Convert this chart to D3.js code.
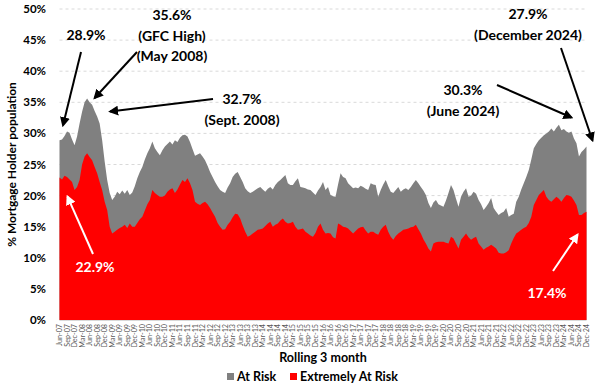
<!DOCTYPE html>
<html>
<head>
<meta charset="utf-8">
<script src="https://cdn.jsdelivr.net/npm/d3@7"></script>
<style>
  body { margin:0; background:#fff; }
  svg { display:block; font-family: Lato, "Open Sans", "DejaVu Sans", sans-serif; }
</style>
</head>
<body>
<div id="chart"></div>
<script>
// Mortgage holders at risk, rolling 3 month, Jun-07 .. Dec-24 (monthly)

const tickLabels = [
  "Jun-07","Sep-07","Dec-07",
  "Mar-08","Jun-08","Sep-08","Dec-08","Mar-09","Jun-09","Sep-09","Dec-09",
  "Mar-10","Jun-10","Sep-10","Dec-10","Mar-11","Jun-11","Sep-11","Dec-11",
  "Mar-12","Jun-12","Sep-12","Dec-12","Mar-13","Jun-13","Sep-13","Dec-13",
  "Mar-14","Jun-14","Sep-14","Dec-14","Mar-15","Jun-15","Sep-15","Dec-15",
  "Mar-16","Jun-16","Sep-16","Dec-16","Mar-17","Jun-17","Sep-17","Dec-17",
  "Mar-18","Jun-18","Sep-18","Dec-18","Mar-19","Jun-19","Sep-19","Dec-19",
  "Mar-20","Jun-20","Sep-20","Dec-20","Mar-21","Jun-21","Sep-21","Dec-21",
  "Mar-22","Jun-22","Sep-22","Dec-22","Mar-23","Jun-23","Sep-23","Dec-23",
  "Mar-24","Jun-24","Sep-24","Dec-24"
];

// "At Risk" (total incl. extremely at risk), % of mortgage holders
const atRisk = [
  28.9,29.0,29.6,30.3,30.1,29.0,28.1,                               // Jun-07..Dec-07
  29.5,31.6,33.5,35.0,35.6,35.0,34.6,33.6,32.7,31.6,28.9,25.5,      // 2008
  22.5,20.4,19.3,19.8,20.6,20.2,20.8,20.3,20.9,20.1,20.5,21.5,      // 2009
  22.8,23.8,24.6,25.8,26.8,27.6,28.7,27.6,27.0,26.5,27.3,27.9,      // 2010
  28.3,28.7,28.2,28.9,28.6,29.3,29.7,29.8,29.5,28.6,27.5,26.4,      // 2011
  26.6,26.8,26.3,25.7,24.8,23.8,23.0,22.2,21.5,20.9,20.6,20.4,      // 2012
  21.3,22.0,23.0,23.5,23.8,23.0,22.2,21.2,20.7,20.4,20.6,20.9,      // 2013
  21.2,21.4,21.0,20.6,21.1,21.4,21.0,21.7,22.2,22.5,22.9,23.3,      // 2014
  22.0,21.7,21.7,22.3,22.8,21.4,21.3,21.2,21.0,20.9,20.5,20.1,      // 2015
  20.8,21.4,22.2,20.9,21.4,20.1,19.9,19.8,21.8,23.6,23.0,22.8,      // 2016
  22.0,21.6,21.2,21.3,21.2,21.6,21.4,21.1,20.9,22.0,21.8,21.7,      // 2017
  19.8,20.9,21.8,22.5,21.5,20.6,20.4,20.9,21.4,20.6,21.0,21.2,      // 2018
  20.9,21.4,22.0,22.5,22.0,21.4,20.8,20.1,18.8,18.0,18.9,19.3,      // 2019
  18.6,18.4,18.2,19.2,20.4,21.7,20.9,19.5,18.2,19.8,20.6,21.2,      // 2020
  19.8,20.0,20.6,20.3,19.3,18.6,17.7,18.2,18.8,19.6,18.0,17.4,      // 2021
  16.9,17.2,17.4,18.0,16.6,16.9,17.1,19.0,19.8,21.0,22.0,23.0,      // 2022
  24.1,25.8,27.6,28.3,28.9,29.3,29.7,30.0,30.3,30.8,30.3,30.9,      // 2023
  31.4,30.5,30.7,30.3,30.1,30.3,29.2,28.4,26.3,27.0,27.4,27.9       // 2024
];

// "Extremely At Risk", % of mortgage holders
const extremelyAtRisk = [
  22.9,22.6,23.2,23.0,22.6,22.2,20.9,
  21.4,22.5,25.0,26.3,26.8,26.2,25.7,24.6,23.6,22.2,20.9,19.0,
  17.7,15.0,13.9,14.2,14.5,14.8,15.0,15.3,14.8,15.5,15.0,15.0,
  15.6,16.2,16.6,17.6,18.6,19.3,20.9,20.4,20.1,19.8,19.8,20.0,
  20.6,21.0,21.2,20.4,21.0,21.8,22.5,22.2,22.8,22.0,20.9,19.0,
  18.7,18.5,18.8,19.0,18.6,18.0,17.3,16.6,15.6,15.0,14.5,14.6,
  15.3,15.8,16.5,17.1,17.0,16.3,15.2,14.2,13.4,13.6,13.9,14.2,
  14.5,14.6,14.7,15.1,15.5,15.8,15.0,15.3,15.5,16.0,16.3,15.8,
  15.5,15.6,15.8,15.0,14.5,14.6,14.7,14.2,13.9,13.6,13.4,14.0,
  15.0,15.5,14.5,13.9,14.0,13.9,13.3,13.1,15.5,15.3,15.0,14.9,
  14.7,14.3,13.9,14.3,14.7,14.9,15.0,14.4,13.9,14.2,14.2,13.9,
  13.7,14.5,15.0,15.3,14.2,13.4,12.9,13.5,13.9,14.2,14.5,14.6,
  14.7,14.9,15.0,15.3,14.6,13.9,13.0,12.3,11.5,11.0,12.3,12.5,
  12.6,12.6,12.6,12.4,12.3,13.4,13.1,12.3,11.5,12.9,13.4,13.9,
  13.3,12.9,13.2,13.4,12.3,11.8,11.3,11.6,11.8,12.1,11.8,11.5,
  10.8,10.7,10.7,10.9,11.2,12.3,13.2,13.9,14.2,14.5,14.8,15.0,
  15.6,16.6,18.5,19.3,20.1,20.5,20.9,19.8,19.3,19.0,19.4,19.8,
  19.5,19.0,19.6,20.1,20.0,19.8,19.2,18.5,16.9,16.9,17.2,17.4
];

const yTicks = [0, 5, 10, 15, 20, 25, 30, 35, 40, 45, 50];

const seriesNames = ["At Risk", "Extremely At Risk"];
const seriesColors = ["#808080", "#ff0000"];

const W = 602, H = 391;
const margin = { left: 59.5, right: 15.5, top: 9, bottom: 71 };

const svg = d3.select("#chart").append("svg")
  .attr("width", W).attr("height", H);

const x = d3.scaleLinear()
  .domain([0, atRisk.length - 1])
  .range([margin.left, W - margin.right]);

const y = d3.scaleLinear()
  .domain([0, 50])
  .range([H - margin.bottom, margin.top]);

// gridlines
svg.append("g")
  .selectAll("line")
  .data(yTicks.filter(d => d > 0))
  .join("line")
  .attr("x1", x.range()[0]).attr("x2", x.range()[1])
  .attr("y1", d => y(d)).attr("y2", d => y(d))
  .attr("stroke", "#d9d9d9")
  .attr("stroke-width", 1)
  .attr("stroke-dasharray", "3,3");

// areas (overlapping, total behind)
const area = vals => d3.area()
  .x((_, i) => x(i))
  .y0(y(0))
  .y1(d => y(d))(vals);

svg.append("path").attr("d", area(atRisk)).attr("fill", seriesColors[0]);
svg.append("path").attr("d", area(extremelyAtRisk)).attr("fill", seriesColors[1]);

// y axis labels
svg.append("g")
  .selectAll("text")
  .data(yTicks)
  .join("text")
  .attr("x", 46)
  .attr("y", d => y(d) + 4)
  .attr("text-anchor", "end")
  .attr("font-size", 11.5)
  .attr("font-weight", 700)
  .attr("fill", "#000")
  .text(d => d + "%");

// x axis baseline
svg.append("line")
  .attr("x1", x.range()[0]).attr("x2", x.range()[1])
  .attr("y1", y(0) + 0.5).attr("y2", y(0) + 0.5)
  .attr("stroke", "#d9d9d9");

// x tick labels, every 3 months
svg.append("g")
  .selectAll("text")
  .data(tickLabels)
  .join("text")
  .attr("transform", (d, i) => `translate(${x(i * 3) + 2.5},${y(0) + 4}) rotate(-90)`)
  .attr("text-anchor", "end")
  .attr("font-size", 7.2)
  .attr("fill", "#595959")
  .text(d => d);

// axis titles
svg.append("text")
  .attr("transform", `translate(16,${(y(0) + y(50)) / 2}) rotate(-90)`)
  .attr("text-anchor", "middle")
  .attr("font-size", 12)
  .attr("font-weight", 700)
  .text("% Mortgage Holder population");

svg.append("text")
  .attr("x", 323).attr("y", 362)
  .attr("text-anchor", "middle")
  .attr("font-size", 12.5)
  .attr("font-weight", 700)
  .text("Rolling 3 month");

// legend
const legend = svg.append("g");
const legendX = [227, 290];
seriesNames.forEach((name, k) => {
  legend.append("rect")
    .attr("x", legendX[k]).attr("y", 373)
    .attr("width", 7).attr("height", 7)
    .attr("fill", seriesColors[k]);
  legend.append("text")
    .attr("x", legendX[k] + 10).attr("y", 381)
    .attr("font-size", 12.5)
    .attr("font-weight", 700)
    .text(name);
});

// annotations
svg.append("defs").selectAll("marker")
  .data([["head-black", "#000"], ["head-white", "#fff"]])
  .join("marker")
  .attr("id", d => d[0])
  .attr("viewBox", "0 0 10 10")
  .attr("refX", 8).attr("refY", 5)
  .attr("markerWidth", 5).attr("markerHeight", 5)
  .attr("orient", "auto")
  .append("path")
  .attr("d", "M0,0 L10,5 L0,10 z")
  .attr("fill", d => d[1]);

const notes = [
  { lines: ["28.9%"], cx: 86, by: 40, from: [81, 52], s: atRisk, i: 0, dx: 3.5, dy: -15, white: false },
  { lines: ["35.6%", "(GFC High)", "(May 2008)"], cx: 172, by: 20, from: [137, 52], s: atRisk, i: 14, dx: 0, dy: -13, white: false },
  { lines: ["32.7%", "(Sept. 2008)"], cx: 242, by: 104, from: [213, 99], s: atRisk, i: 15, dx: 13, dy: -5, white: false },
  { lines: ["30.3%", "(June 2024)"], cx: 463, by: 95, from: [497, 85], s: atRisk, i: 204, dx: 0, dy: -14, white: false },
  { lines: ["27.9%", "(December 2024)"], cx: 528, by: 19, from: [561, 48], s: atRisk, i: 210, dx: 6, dy: -6, white: false },
  { lines: ["22.9%"], cx: 95, by: 272, from: [93, 254], s: extremelyAtRisk, i: 0, dx: 8, dy: 19, white: true },
  { lines: ["17.4%"], cx: 547, by: 298, from: [553, 271], s: extremelyAtRisk, i: 210, dx: -9, dy: 23, white: true }
];

notes.forEach(n => {
  const col = n.white ? "#fff" : "#000";
  svg.append("line")
    .attr("x1", n.from[0]).attr("y1", n.from[1])
    .attr("x2", x(n.i) + n.dx).attr("y2", y(n.s[n.i]) + n.dy)
    .attr("stroke", col)
    .attr("stroke-width", 2)
    .attr("marker-end", `url(#head-${n.white ? "white" : "black"})`);
  n.lines.forEach((t, k) => {
    svg.append("text")
      .attr("x", n.cx).attr("y", n.by + k * 20.5)
      .attr("text-anchor", "middle")
      .attr("font-size", 14)
      .attr("font-weight", 700)
      .attr("fill", col)
      .text(t);
  });
});
</script>
</body>
</html>
